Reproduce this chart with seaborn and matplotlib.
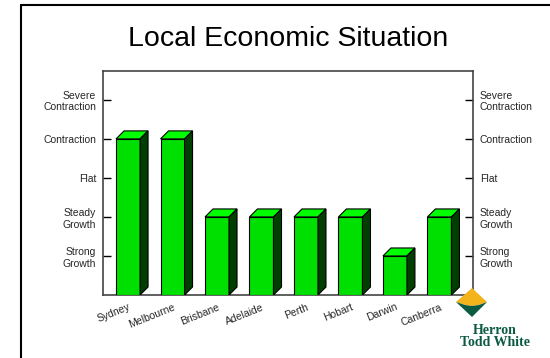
import matplotlib
matplotlib.use("Agg")
import matplotlib.pyplot as plt
import seaborn as sns
import pandas as pd
from matplotlib.patches import Polygon
from matplotlib.lines import Line2D

# chart data
cities = ["Sydney", "Melbourne", "Brisbane", "Adelaide", "Perth", "Hobart", "Darwin", "Canberra"]
scores = [4, 4, 2, 2, 2, 2, 1, 2]
level_ticks = [1, 2, 3, 4, 5]
level_labels = ["Strong\nGrowth", "Steady\nGrowth", "Flat", "Contraction", "Severe\nContraction"]

sns.set_style("white")
plt.rcParams["font.family"] = ["Liberation Sans", "DejaVu Sans"]

fig = plt.figure(figsize=(5.5, 3.58), dpi=100)
ax = fig.add_axes([103 / 550, 63 / 358, 370 / 550, 224 / 358])

df = pd.DataFrame({"city": cities, "score": scores})
sns.barplot(data=df, x="city", y="score", color="#00E000", saturation=1, width=0.54,
            edgecolor="black", linewidth=0.8, ax=ax, zorder=3)

ax.set_xlim(-0.563, 7.755)
ax.set_ylim(0, 5.74)

# pseudo-3D faces, 8px deep
dx = 8 / (370 / (7.755 + 0.563))
dy = 8 / (224 / 5.74)
for p in ax.patches[:len(cities)]:
    x0 = p.get_x()
    x1 = x0 + p.get_width()
    h = p.get_height()
    top = Polygon([(x0, h), (x1, h), (x1 + dx, h + dy), (x0 + dx, h + dy)],
                  closed=True, facecolor="#00FF00", edgecolor="black", lw=0.8, zorder=3)
    side = Polygon([(x1, 0), (x1, h), (x1 + dx, h + dy), (x1 + dx, dy)],
                   closed=True, facecolor="#003F00", edgecolor="black", lw=0.8, zorder=3)
    ax.add_patch(top)
    ax.add_patch(side)

ax.set_yticks(level_ticks)
ax.set_yticklabels(level_labels, fontsize=7.5)
ax.tick_params(axis="y", direction="in", length=6, width=1, color="black",
               left=True, right=True, labelleft=True, labelright=True, pad=5)
ax.tick_params(axis="x", length=0, pad=5)
for lab in ax.get_xticklabels():
    lab.set_rotation(22)
    lab.set_ha("right")
    lab.set_rotation_mode("anchor")
    lab.set_fontsize(7.5)
ax.set_xlabel("")
ax.set_ylabel("")
for s in ax.spines.values():
    s.set_visible(True)
    s.set_color("#444444")
    s.set_linewidth(1.2)

fig.text(288 / 550, 1 - 39 / 358, "Local Economic Situation", ha="center", va="center",
         fontsize=20.5, color="black")

# outer frame
fig.add_artist(Line2D([21 / 550, 21 / 550], [0, 1 - 5 / 358], color="black", lw=1.5,
                      transform=fig.transFigure))
fig.add_artist(Line2D([21 / 550, 1], [1 - 5 / 358, 1 - 5 / 358], color="black", lw=1.5,
                      transform=fig.transFigure))

# logo
def fpt(x, y):
    return (x / 550, 1 - y / 358)

orange = Polygon([fpt(472, 288), fpt(487, 302), fpt(479, 305), fpt(472, 306),
                  fpt(465, 305), fpt(456, 302)], closed=True, facecolor="#F2B31B",
                 edgecolor="none", transform=fig.transFigure, zorder=5)
green = Polygon([fpt(456, 302), fpt(465, 305), fpt(472, 306), fpt(479, 305),
                 fpt(487, 302), fpt(472, 317)], closed=True, facecolor="#0B5A44",
                edgecolor="none", transform=fig.transFigure, zorder=5)
fig.add_artist(orange)
fig.add_artist(green)
fig.text(495 / 550, 1 - 330 / 358, "Herron", ha="center", va="center", fontsize=10,
         fontweight="bold", family="Liberation Serif", color="#0B5A44")
fig.text(495 / 550, 1 - 343 / 358, "Todd White", ha="center", va="center", fontsize=10,
         fontweight="bold", family="Liberation Serif", color="#0B5A44")

fig.savefig("out.png", dpi=100)
